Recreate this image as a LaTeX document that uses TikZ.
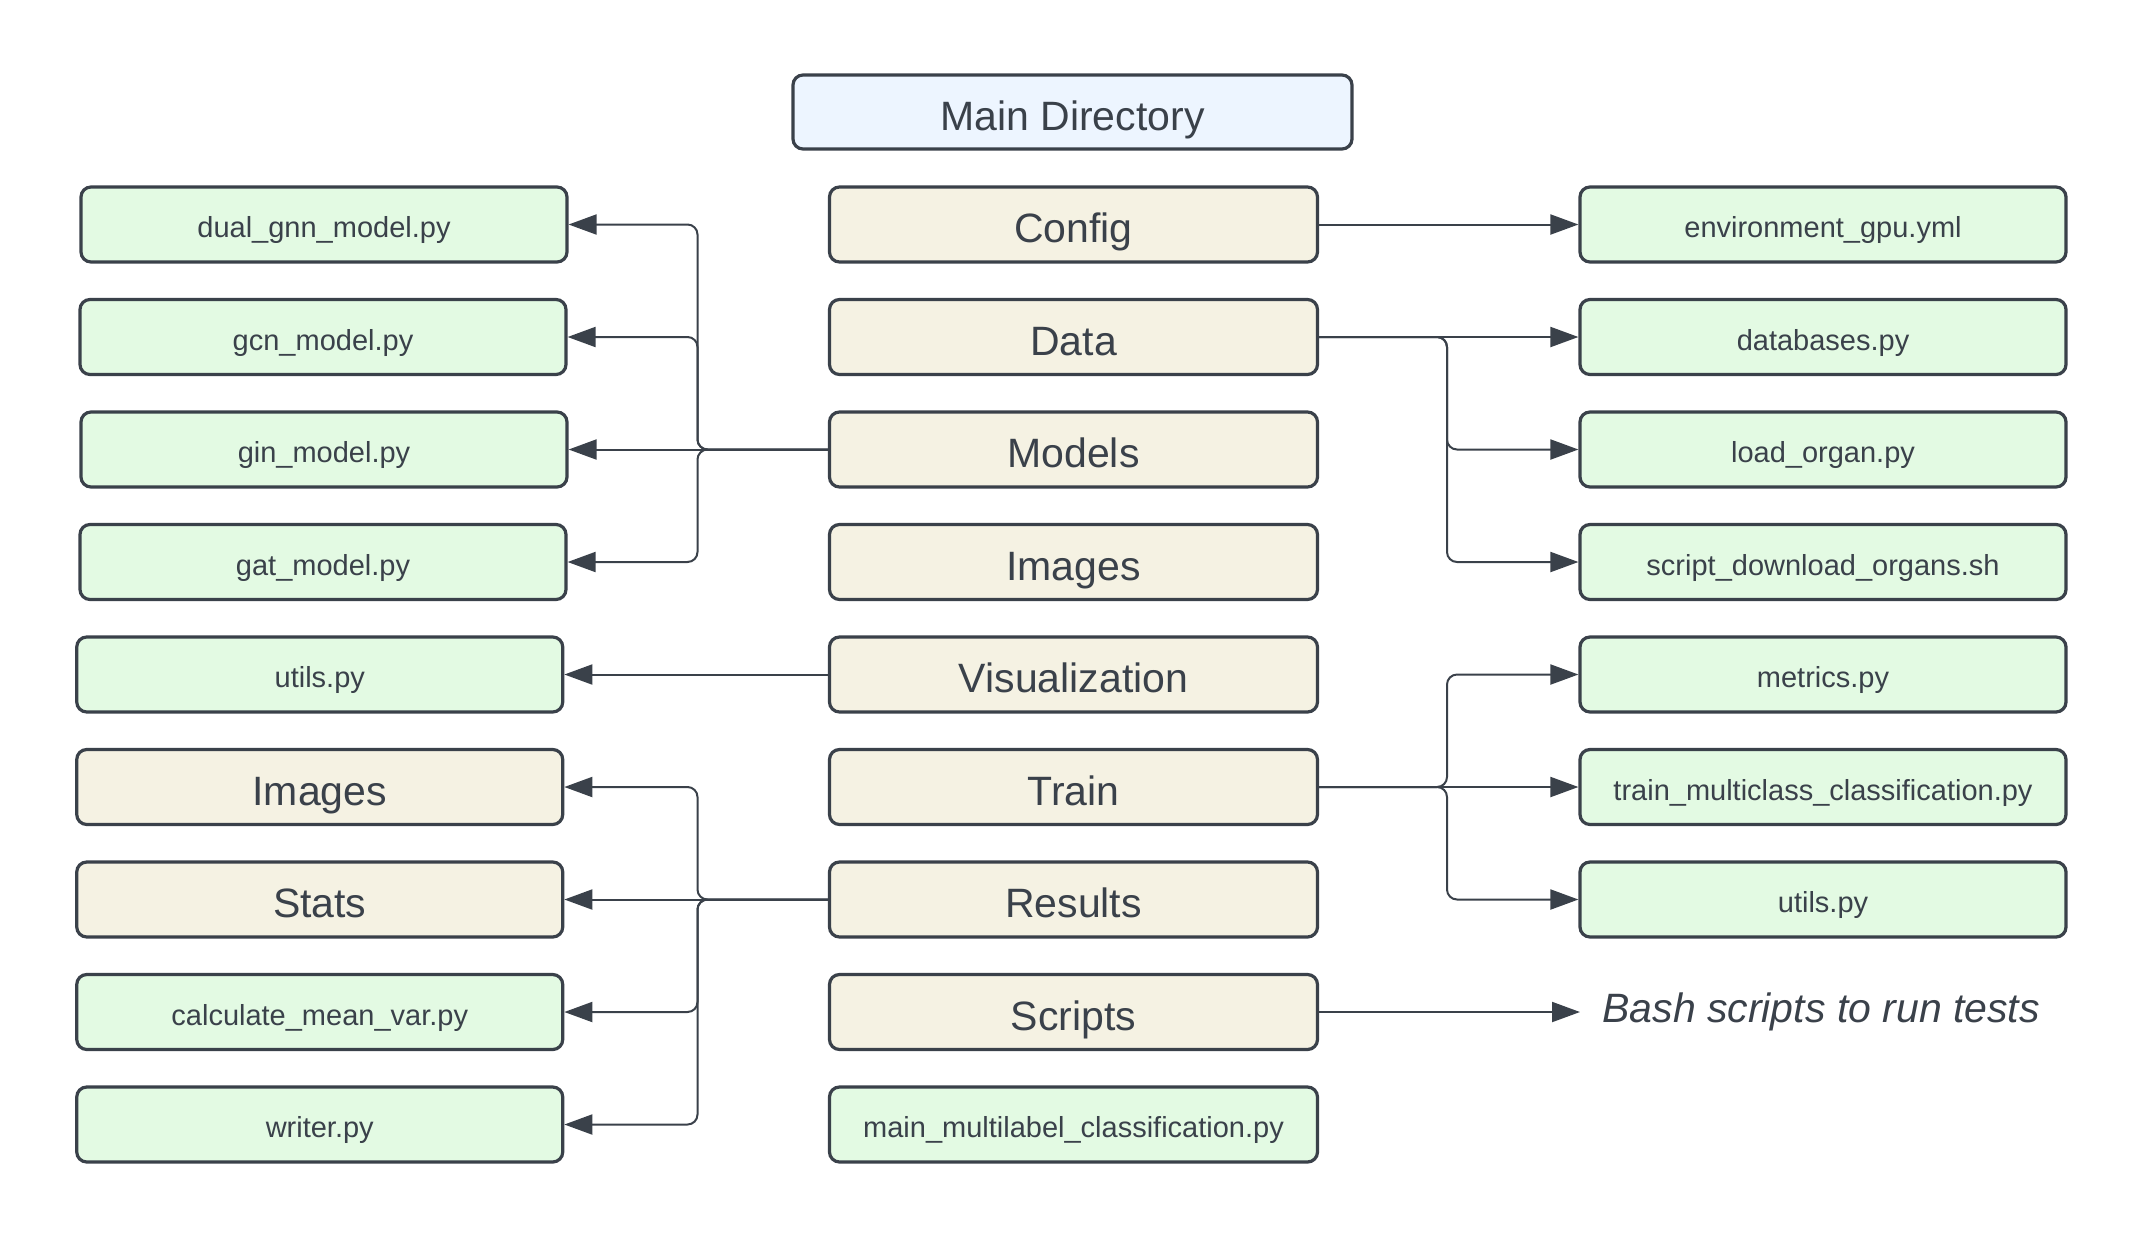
\documentclass[tikz,border=0pt]{standalone}
\usepackage{fontspec}
\setmainfont{Liberation Sans}
\usetikzlibrary{arrows.meta}
\definecolor{ink}{HTML}{3A414A}
\definecolor{gfill}{HTML}{E3FAE3}
\definecolor{bfill}{HTML}{F5F2E3}
\definecolor{mfill}{HTML}{EDF5FF}
\tikzset{
  box/.style={draw=ink, line width=1.6pt, rounded corners=5pt, minimum height=37.5pt,
    inner sep=0pt, text=ink},
  bigtext/.style={font=\fontsize{20.5}{24}\selectfont, text height=18.8pt, text depth=0.4pt},
  smalltext/.style={font=\fontsize{14.5}{17}\selectfont, text height=13.7pt, text depth=0.4pt},
  filebox/.style={box, fill=gfill, smalltext, minimum width=243pt},
  dirbox/.style={box, fill=bfill, bigtext, minimum width=244pt},
  conn/.style={draw=ink, line width=1pt, rounded corners=5pt, -{Triangle[length=14pt,width=10pt]}}
}
\begin{document}
\begin{tikzpicture}[x=0.5pt,y=-0.5pt]
\useasboundingbox (0,0) rectangle (2141,1238);
% main
\node[box, fill=mfill, bigtext, minimum width=279.5pt, minimum height=37pt] (main) at (1072.5,112) {Main Directory};
% middle column
\node[dirbox] (config) at (1073.5,224.5) {Config};
\node[dirbox] (data) at (1073.5,337) {Data};
\node[dirbox] (models) at (1073.5,449.5) {Models};
\node[dirbox] (mimages) at (1073.5,562) {Images};
\node[dirbox] (vis) at (1073.5,674.5) {Visualization};
\node[dirbox] (train) at (1073.5,787) {Train};
\node[dirbox] (results) at (1073.5,899.5) {Results};
\node[dirbox] (scripts) at (1073.5,1012) {Scripts};
\node[filebox, minimum width=244pt] (mainpy) at (1073.5,1124.5) {main\_multilabel\_classification.py};
% left column
\node[filebox] (dual) at (324,224.5) {dual\_gnn\_model.py};
\node[filebox] (gcn) at (323,337) {gcn\_model.py};
\node[filebox] (gin) at (324,449.5) {gin\_model.py};
\node[filebox] (gat) at (323,562) {gat\_model.py};
\node[filebox] (utils) at (319.75,674.5) {utils.py};
\node[dirbox, minimum width=243pt] (limages) at (319.75,787) {Images};
\node[dirbox, minimum width=243pt] (stats) at (319.75,899.5) {Stats};
\node[filebox] (calc) at (319.75,1012) {calculate\_mean\_var.py};
\node[filebox] (writer) at (319.75,1124.5) {writer.py};
% right column
\node[filebox] (env) at (1823,224.5) {environment\_gpu.yml};
\node[filebox] (databases) at (1823,337) {databases.py};
\node[filebox] (load) at (1823,449.5) {load\_organ.py};
\node[filebox] (dl) at (1823,562) {script\_download\_organs.sh};
\node[filebox] (metrics) at (1823,674.5) {metrics.py};
\node[filebox] (trainmc) at (1823,787) {train\_multiclass\_classification.py};
\node[filebox] (utils2) at (1823,899.5) {utils.py};
% bash text
\coordinate (bashend) at (1580,1012);
\node[anchor=base west, text=ink, inner sep=0pt, font=\fontsize{20.5}{24}\selectfont\itshape] (bash) at (1602,1022.7) {Bash scripts to run tests};
% connectors
\draw[conn] (config) -- (env);
\draw[conn] (data) -- (databases);
\draw[conn] (data.east) -- (1447,337) |- (load);
\draw[conn] (data.east) -- (1447,337) |- (dl);
\draw[conn] (models) -- (gin);
\draw[conn] (models.west) -- (697.5,449.5) |- (dual);
\draw[conn] (models.west) -- (697.5,449.5) |- (gcn);
\draw[conn] (models.west) -- (697.5,449.5) |- (gat);
\draw[conn] (vis) -- (utils);
\draw[conn] (train) -- (trainmc);
\draw[conn] (train.east) -- (1447,787) |- (metrics);
\draw[conn] (train.east) -- (1447,787) |- (utils2);
\draw[conn] (results) -- (stats);
\draw[conn] (results.west) -- (697.5,899.5) |- (limages);
\draw[conn] (results.west) -- (697.5,899.5) |- (calc);
\draw[conn] (results.west) -- (697.5,899.5) |- (writer);
\draw[conn] (scripts) -- (bashend);
\end{tikzpicture}
\end{document}
